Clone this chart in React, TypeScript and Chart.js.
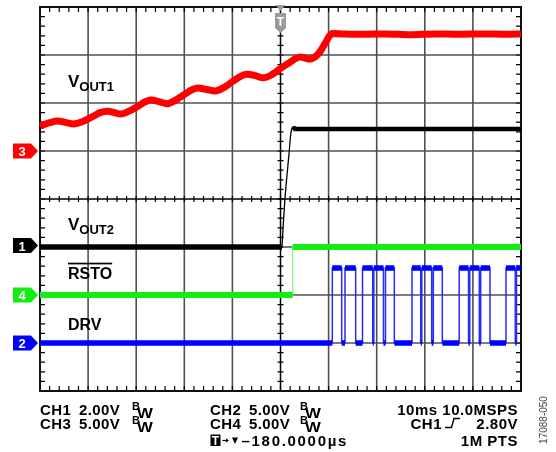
import React, { useEffect, useRef } from "react";
import { Chart, registerables } from "chart.js";

Chart.register(...registerables);

// ---- Horizontal: time, 10 ms/div, 10 divisions, trigger at centre ----
const TIME_MIN_MS = -50;
const TIME_MAX_MS = 50;
const TRIGGER_MS = 0;
// ---- Vertical: 8 screen divisions ----
const DIV_MIN = -4;
const DIV_MAX = 4;

// ---- Channel settings (V/div and ground marker position in divisions) ----
const ch1VoltsPerDiv = 2;
const ch2VoltsPerDiv = 5;
const ch3VoltsPerDiv = 5;
const ch4VoltsPerDiv = 5;
const ch1OffsetDiv = -1;
const ch2OffsetDiv = -3;
const ch3OffsetDiv = 1;
const ch4OffsetDiv = -2;

// ---- CH3: VOUT1 (V) ----
const vout1Time = [
  -50, -48, -46.3, -44.5, -43, -41, -39, -37.5, -36, -34.5, -33.3, -31.5, -29.5, -28, -27,
  -25.3, -23.6, -21.8, -19.8, -18.3, -17.2, -15.3, -13.6, -11.8, -9.8, -8.2, -7, -5.2, -3.6,
  -1.8, 0, 2, 3.2, 4.2, 5, 6.1, 7.2, 8.3, 9.5, 10.7, 13, 17, 22, 27, 32, 37, 42, 47, 50,
];
const vout1Volts = [
  2.6, 2.95, 3.13, 2.95, 2.82, 3.1, 3.6, 4.0, 4.15, 4.0, 3.85, 4.15, 4.7, 5.15, 5.3,
  5.15, 4.92, 5.3, 5.95, 6.4, 6.55, 6.4, 6.25, 6.6, 7.3, 7.8, 8.0, 7.85, 7.62,
  7.95, 8.6, 9.25, 9.65, 9.8, 9.7, 9.58, 9.8, 10.4, 11.4, 12.25, 12.2, 12.15, 12.2, 12.1, 12.2,
  12.15, 12.2, 12.15, 12.2,
];

// ---- CH1: VOUT2 (V) ----
const vout2Time = [-50, 0.3, 0.5, 0.9, 1.35, 1.8, 2.0, 2.2, 2.6, 3.0, 50];
const vout2Volts = [0, 0, 0.7, 1.95, 3.0, 3.95, 4.45, 4.8, 5.0, 4.92, 4.92];
const vout2EdgeStartMs = 0.3;
const vout2EdgeEndMs = 2.6;

// ---- CH4: RSTO (V) ----
const rstoEdgesMs = [2.54];
const rstoLowV = 0;
const rstoHighV = 5.0;

// ---- CH2: DRV (V), edges alternate rise / fall ----
const drvEdgesMs = [
  10.77, 12.72, 13.41, 15.63, 17.05, 19.17, 19.4, 21.41, 21.83, 23.66, 27.34, 29.15, 29.38,
  31.43, 31.77, 33.64, 37.15, 39.09, 39.36, 41.33, 41.62, 43.55, 46.88, 48.81, 49.06,
];
const drvLowV = 0;
const drvHighV = 7.8;

// ---- Text ----
const traceLabels = ["VOUT1", "VOUT2", "RSTO", "DRV"];
const readoutLeft = [["CH1", "2.00V"], ["CH3", "5.00V"]];
const readoutMid = [["CH2", "5.00V"], ["CH4", "5.00V"]];
const timebaseText = "10ms 10.0MSPS";
const triggerSource = "CH1";
const triggerLevel = "2.80V";
const recordLength = "1M PTS";
const triggerDelay = "\u2013180.0000\u00b5s";
const figureId = "17088-050";

const FONT = '"Liberation Sans", Arial, sans-serif';

type P = { x: number; y: number | null };

const toDiv = (v: number, vpd: number, off: number) => off + v / vpd;

function curve(t: number[], v: number[], vpd: number, off: number): P[] {
  return t.map((x, i) => ({ x, y: toDiv(v[i], vpd, off) }));
}

function stepped(edges: number[], lo: number, hi: number, vpd: number, off: number): P[] {
  const pts: P[] = [];
  let s = lo;
  pts.push({ x: TIME_MIN_MS, y: toDiv(s, vpd, off) });
  for (const e of edges) {
    pts.push({ x: e, y: toDiv(s, vpd, off) });
    s = s === lo ? hi : lo;
    pts.push({ x: e, y: toDiv(s, vpd, off) });
  }
  pts.push({ x: TIME_MAX_MS, y: toDiv(s, vpd, off) });
  return pts;
}

function levels(edges: number[], lo: number, hi: number, vpd: number, off: number): P[] {
  const pts: P[] = [];
  let s = lo;
  let start = TIME_MIN_MS;
  for (const e of edges) {
    pts.push({ x: start, y: toDiv(s, vpd, off) });
    pts.push({ x: e, y: toDiv(s, vpd, off) });
    pts.push({ x: e, y: null });
    start = e;
    s = s === lo ? hi : lo;
  }
  pts.push({ x: start, y: toDiv(s, vpd, off) });
  pts.push({ x: TIME_MAX_MS, y: toDiv(s, vpd, off) });
  return pts;
}

const line = (data: P[], color: string, width: number, extra: any = {}) => ({
  data,
  borderColor: color,
  borderWidth: width,
  pointRadius: 0,
  fill: false,
  spanGaps: false,
  borderCapStyle: "butt",
  clip: 1,
  ...extra,
});

const gridPlugin = {
  id: "scopeGrid",
  beforeDatasetsDraw(chart: any) {
    const { ctx, chartArea: a, scales } = chart;
    const xs = scales.x;
    const ys = scales.y;
    ctx.save();
    const xMid = xs.getPixelForValue((TIME_MIN_MS + TIME_MAX_MS) / 2);
    const yMid = ys.getPixelForValue(0);
    ctx.strokeStyle = "#505050";
    ctx.lineWidth = 1.6;
    for (let i = 1; i < 10; i++) {
      if (i === 5) continue;
      const x = xs.getPixelForValue(TIME_MIN_MS + i * 10);
      ctx.beginPath();
      ctx.moveTo(x, a.top);
      ctx.lineTo(x, a.bottom);
      ctx.stroke();
    }
    for (let d = DIV_MIN + 1; d < DIV_MAX; d++) {
      if (d === 0) continue;
      const y = ys.getPixelForValue(d);
      ctx.beginPath();
      ctx.moveTo(a.left, y);
      ctx.lineTo(a.right, y);
      ctx.stroke();
    }
    ctx.strokeStyle = "#000";
    ctx.lineWidth = 1.5;
    ctx.beginPath();
    ctx.moveTo(xMid, a.top);
    ctx.lineTo(xMid, a.bottom);
    ctx.moveTo(a.left, yMid);
    ctx.lineTo(a.right, yMid);
    ctx.stroke();
    ctx.lineWidth = 1.2;
    ctx.beginPath();
    for (let k = 1; k < 50; k++) {
      const x = xs.getPixelForValue(TIME_MIN_MS + k * 2);
      ctx.moveTo(x, a.top);
      ctx.lineTo(x, a.top + 5);
      ctx.moveTo(x, a.bottom);
      ctx.lineTo(x, a.bottom - 5);
      ctx.moveTo(x, yMid - 3);
      ctx.lineTo(x, yMid + 3);
    }
    for (let k = 1; k < 40; k++) {
      const y = ys.getPixelForValue(DIV_MIN + k * 0.2);
      ctx.moveTo(a.left, y);
      ctx.lineTo(a.left + 5, y);
      ctx.moveTo(a.right, y);
      ctx.lineTo(a.right - 5, y);
      ctx.moveTo(xMid - 3, y);
      ctx.lineTo(xMid + 3, y);
    }
    ctx.stroke();
    ctx.strokeStyle = "#111";
    ctx.lineWidth = 2;
    ctx.strokeRect(a.left, a.top, a.right - a.left, a.bottom - a.top);
    ctx.restore();
  },
};

function marker(ctx: CanvasRenderingContext2D, y: number, color: string, label: string) {
  ctx.beginPath();
  ctx.moveTo(13, y - 7.5);
  ctx.lineTo(31, y - 7.5);
  ctx.lineTo(38, y);
  ctx.lineTo(31, y + 7.5);
  ctx.lineTo(13, y + 7.5);
  ctx.closePath();
  ctx.fillStyle = color;
  ctx.fill();
  ctx.fillStyle = "#fff";
  ctx.font = `bold 13px ${FONT}`;
  ctx.textAlign = "center";
  ctx.textBaseline = "alphabetic";
  ctx.fillText(label, 22, y + 5);
}

function bw(ctx: CanvasRenderingContext2D, x: number, base: number) {
  ctx.textAlign = "left";
  ctx.font = `bold 11px ${FONT}`;
  ctx.fillText("B", x, base - 4.5);
  ctx.save();
  ctx.translate(x + 5, base + 3.5);
  ctx.scale(1.2, 1);
  ctx.font = `bold 14px ${FONT}`;
  ctx.fillText("W", 0, 0);
  ctx.restore();
}

const labelPlugin = {
  id: "scopeLabels",
  afterDraw(chart: any) {
    const { ctx, scales } = chart;
    const ys = scales.y;
    const xs = scales.x;
    ctx.save();
    ctx.textBaseline = "alphabetic";
    ctx.fillStyle = "#000";

    const sub = (main: string, s: string, x: number, base: number) => {
      ctx.textAlign = "left";
      ctx.font = `bold 17px ${FONT}`;
      ctx.fillText(main, x, base);
      const w = ctx.measureText(main).width;
      ctx.font = `bold 13px ${FONT}`;
      ctx.fillText(s, x + w, base + 4);
    };
    sub(traceLabels[0].slice(0, 1), traceLabels[0].slice(1), 68, 87);
    sub(traceLabels[1].slice(0, 1), traceLabels[1].slice(1), 68, 229.5);
    ctx.font = `bold 16px ${FONT}`;
    ctx.fillText(traceLabels[2], 68, 278.5);
    const rw = ctx.measureText(traceLabels[2]).width;
    ctx.fillRect(68, 262.7, rw, 1.7);
    ctx.fillText(traceLabels[3], 68, 329.5);

    marker(ctx, ys.getPixelForValue(ch3OffsetDiv), "#ff0000", "3");
    marker(ctx, ys.getPixelForValue(ch1OffsetDiv) - 1.5, "#000000", "1");
    marker(ctx, ys.getPixelForValue(ch4OffsetDiv), "#11ee11", "4");
    marker(ctx, ys.getPixelForValue(ch2OffsetDiv), "#0000ff", "2");

    const tx = xs.getPixelForValue(TRIGGER_MS);
    ctx.fillStyle = "#9a9a9a";
    ctx.beginPath();
    ctx.moveTo(tx - 5, 5);
    ctx.lineTo(tx + 5, 5);
    ctx.lineTo(tx, 11);
    ctx.closePath();
    ctx.fill();
    ctx.beginPath();
    ctx.moveTo(tx - 5.5, 13);
    ctx.lineTo(tx + 5.5, 13);
    ctx.lineTo(tx + 5.5, 28);
    ctx.lineTo(tx, 33);
    ctx.lineTo(tx - 5.5, 28);
    ctx.closePath();
    ctx.fill();
    ctx.fillStyle = "#fff";
    ctx.font = `bold 12px ${FONT}`;
    ctx.textAlign = "center";
    ctx.fillText("T", tx, 26);

    ctx.fillStyle = "#000";
    const r1 = 414.5;
    const r2 = 428.5;
    const r3 = 445.5;
    const big = `bold 15px ${FONT}`;
    (ctx as any).letterSpacing = "0.4px";
    ctx.font = big;
    ctx.textAlign = "left";
    ctx.fillText(readoutLeft[0][0], 40, r1);
    ctx.fillText(readoutLeft[0][1], 79, r1);
    ctx.fillText(readoutLeft[1][0], 40, r2);
    ctx.fillText(readoutLeft[1][1], 79, r2);
    ctx.fillText(readoutMid[0][0], 210, r1);
    ctx.fillText(readoutMid[0][1], 249, r1);
    ctx.fillText(readoutMid[1][0], 210, r2);
    ctx.fillText(readoutMid[1][1], 249, r2);
    (ctx as any).letterSpacing = "0px";
    bw(ctx, 132, r1);
    bw(ctx, 132, r2);
    bw(ctx, 300, r1);
    bw(ctx, 300, r2);

    (ctx as any).letterSpacing = "0.5px";
    ctx.font = big;
    ctx.textAlign = "right";
    ctx.fillText(timebaseText, 518, r1);
    ctx.fillText(triggerLevel, 518, r2);
    ctx.fillText(triggerSource, 442, r2);
    ctx.fillText(recordLength, 518, r3);
    (ctx as any).letterSpacing = "0px";
    ctx.strokeStyle = "#000";
    ctx.lineWidth = 1.4;
    ctx.beginPath();
    ctx.moveTo(445, 427.5);
    ctx.lineTo(451.5, 427.5);
    ctx.lineTo(454, 418.5);
    ctx.lineTo(460, 418.5);
    ctx.stroke();

    ctx.fillRect(210.5, 434.5, 10, 11.5);
    ctx.fillStyle = "#fff";
    ctx.font = `bold 12px ${FONT}`;
    ctx.textAlign = "center";
    ctx.fillText("T", 215.5, 444.5);
    ctx.fillStyle = "#000";
    ctx.lineWidth = 1.2;
    ctx.beginPath();
    ctx.moveTo(222.5, 440.5);
    ctx.lineTo(227, 440.5);
    ctx.stroke();
    ctx.beginPath();
    ctx.moveTo(226, 438.5);
    ctx.lineTo(229, 440.5);
    ctx.lineTo(226, 442.5);
    ctx.closePath();
    ctx.fill();
    ctx.beginPath();
    ctx.moveTo(232, 437.5);
    ctx.lineTo(238, 437.5);
    ctx.lineTo(235, 444);
    ctx.closePath();
    ctx.fill();
    (ctx as any).letterSpacing = "1.7px";
    ctx.font = big;
    ctx.textAlign = "left";
    ctx.fillText(triggerDelay, 241.5, r3);
    (ctx as any).letterSpacing = "0px";

    ctx.save();
    ctx.translate(546.5, 420);
    ctx.rotate(-Math.PI / 2);
    ctx.fillStyle = "#444";
    ctx.font = `10px ${FONT}`;
    ctx.textAlign = "center";
    ctx.fillText(figureId, 0, 0);
    ctx.restore();

    ctx.restore();
  },
};

export default function App() {
  const ref = useRef<HTMLCanvasElement | null>(null);

  useEffect(() => {
    if (!ref.current) return;
    const vout2Pts = curve(vout2Time, vout2Volts, ch1VoltsPerDiv, ch1OffsetDiv);
    const vout2Left: P[] = vout2Pts.filter((p) => p.x <= vout2EdgeStartMs);
    const vout2Right: P[] = vout2Pts.filter((p) => p.x >= vout2EdgeEndMs);

    const chart = new Chart(ref.current, {
      type: "line",
      data: {
        datasets: [
          line(curve(vout1Time, vout1Volts, ch3VoltsPerDiv, ch3OffsetDiv), "#ff0000", 7, {
            cubicInterpolationMode: "monotone",
          }),
          line(vout2Left, "#000000", 5.5),
          line(vout2Right, "#000000", 4.5),
          line(vout2Pts, "#000000", 1.3, { cubicInterpolationMode: "monotone" }),
          line(levels(rstoEdgesMs, rstoLowV, rstoHighV, ch4VoltsPerDiv, ch4OffsetDiv), "#11ee11", 6),
          line(stepped(rstoEdgesMs, rstoLowV, rstoHighV, ch4VoltsPerDiv, ch4OffsetDiv), "#8cf08c", 1.3),
          line(levels(drvEdgesMs, drvLowV, drvHighV, ch2VoltsPerDiv, ch2OffsetDiv), "#0000ff", 5.5),
          line(stepped(drvEdgesMs, drvLowV, drvHighV, ch2VoltsPerDiv, ch2OffsetDiv), "#2a2aff", 1.5),
        ] as any,
      },
      options: {
        animation: false,
        responsive: false,
        maintainAspectRatio: false,
        layout: { padding: { left: 40, right: 35, top: 7, bottom: 61 } },
        plugins: { legend: { display: false }, tooltip: { enabled: false }, title: { display: false } },
        scales: {
          x: { type: "linear", min: TIME_MIN_MS, max: TIME_MAX_MS, display: false },
          y: { type: "linear", min: DIV_MIN, max: DIV_MAX, display: false },
        },
        elements: { line: { tension: 0 } },
      },
      plugins: [gridPlugin, labelPlugin],
    });
    return () => chart.destroy();
  }, []);

  return (
    <div style={{ position: "fixed", left: 0, top: 0, width: 556, height: 452, background: "#fff" }}>
      <canvas ref={ref} width={556} height={452} style={{ width: 556, height: 452, display: "block" }} />
    </div>
  );
}
